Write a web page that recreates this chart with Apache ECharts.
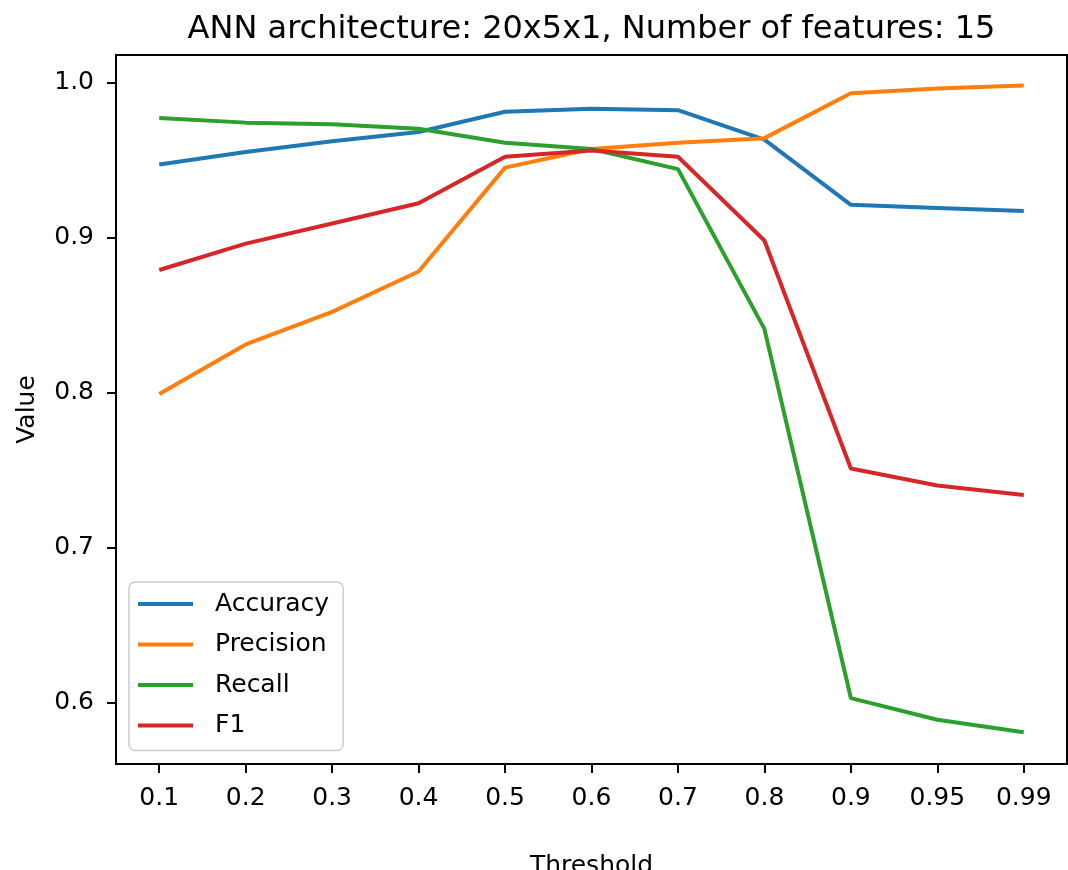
<!DOCTYPE html>
<html>
<head>
<meta charset="utf-8">
<script src="https://cdn.jsdelivr.net/npm/echarts@6/dist/echarts.min.js"></script>
<style>html,body{margin:0;padding:0;background:#fff;overflow:hidden;}#c{width:1068px;height:870px;}</style>
</head>
<body>
<div id="c"></div>
<script>
const categories = ['0.1','0.2','0.3','0.4','0.5','0.6','0.7','0.8','0.9','0.95','0.99'];
const accuracy  = [0.947,0.955,0.962,0.968,0.981,0.983,0.982,0.963,0.921,0.919,0.917];
const precision = [0.799,0.831,0.852,0.878,0.945,0.957,0.961,0.964,0.993,0.996,0.998];
const recall    = [0.977,0.974,0.973,0.970,0.961,0.957,0.944,0.841,0.603,0.589,0.581];
const f1        = [0.879,0.896,0.909,0.922,0.952,0.956,0.952,0.898,0.751,0.740,0.734];
const yTicks = [0.6,0.7,0.8,0.9,1.0];
const seriesNames = ['Accuracy','Precision','Recall','F1'];
const colors = ['#1f77b4','#ff7f0e','#2ca02c','#d62728'];

const font = 'DejaVu Sans';
const chart = echarts.init(document.getElementById('c'), null, {renderer:'canvas', width:1068, height:870});
const mk = (name, data, i) => ({
  name, type:'line', data, showSymbol:false, symbol:'none',
  lineStyle:{color:colors[i], width:4}, itemStyle:{color:colors[i]},
  emphasis:{disabled:true}, animation:false, z: 2+i
});
chart.setOption({
  animation:false,
  backgroundColor:'#fff',
  textStyle:{fontFamily:font},
  title:{
    text:'ANN architecture: 20x5x1, Number of features: 15',
    left:586.5, top:9, textAlign:'center',
    textStyle:{fontFamily:font, fontSize:32, fontWeight:'normal', color:'#000'}
  },
  grid:{left:116, width:951, top:55, height:709, outerBoundsMode:'none', containLabel:false,
        show:true, borderColor:'#000', borderWidth:2, backgroundColor:'transparent'},
  legend:{
    orient:'vertical', left:129, top:582,
    data:seriesNames,
    icon:'rect', itemWidth:55, itemHeight:4, itemGap:10.5,
    padding:[7,14,10,9],
    backgroundColor:'rgba(255,255,255,0.8)', borderColor:'#cccccc', borderWidth:1.5, borderRadius:6,
    textStyle:{fontFamily:font, fontSize:25, color:'#000', lineHeight:30, padding:[0,0,0,17]}
  },
  xAxis:{
    type:'category', data:categories, boundaryGap:true,
    name:'Threshold', nameLocation:'middle', nameGap:90,
    nameTextStyle:{fontFamily:font, fontSize:25, color:'#000'},
    axisLine:{show:false},
    axisTick:{show:true, alignWithLabel:true, length:9, lineStyle:{color:'#000', width:2}},
    axisLabel:{fontFamily:font, fontSize:25, color:'#000', margin:22, interval:0},
    splitLine:{show:false}
  },
  yAxis:{
    type:'value', min:0.5605, max:1.0176,
    name:'Value', nameLocation:'middle', nameGap:76, nameRotate:90,
    nameTextStyle:{fontFamily:font, fontSize:25, color:'#000'},
    axisLine:{show:false},
    axisTick:{show:true, length:9, lineStyle:{color:'#000', width:2}, customValues:yTicks},
    axisLabel:{fontFamily:font, fontSize:25, color:'#000', margin:22, customValues:yTicks, formatter:v=>v.toFixed(1)},
    splitLine:{show:false}
  },
  series:[mk('Accuracy',accuracy,0), mk('Precision',precision,1), mk('Recall',recall,2), mk('F1',f1,3)]
});
</script>
</body>
</html>
